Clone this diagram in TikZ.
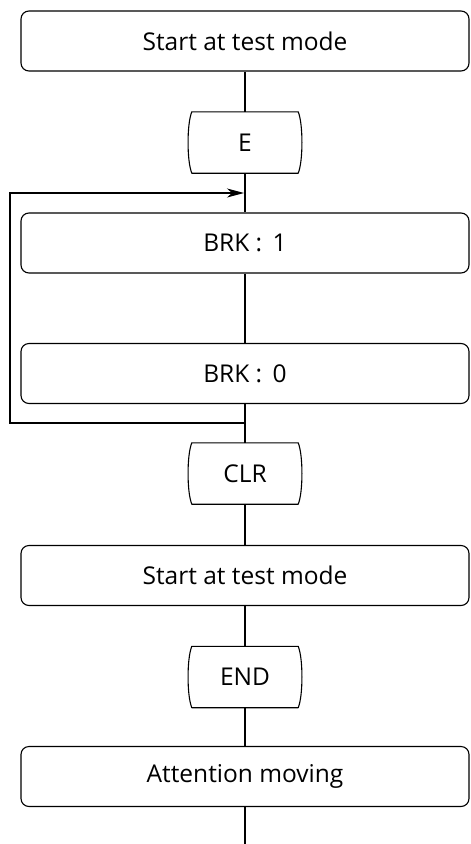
\documentclass[tikz,border=0pt]{standalone}
\usepackage{fontspec}
\setmainfont{Open Sans}
\usetikzlibrary{arrows.meta,positioning,calc}

\tikzset{
  flowline/.style={line width=1.1pt, black},
  stepbox/.style={draw, line width=1.1pt, rounded corners=8pt, minimum width=448pt,
    minimum height=60pt, inner sep=0pt, font=\fontsize{24.5}{27}\selectfont},
  keycap/.style={minimum width=106pt, minimum height=61pt, inner sep=0pt,
    font=\fontsize{24.5}{27}\selectfont},
}

\begin{document}
\begin{tikzpicture}[x=1pt, y=-1pt]
    \useasboundingbox (0,0) rectangle (471,844);
    % Steps
    \node[stepbox] (start) at (245,41) {Start at test mode};
    \node[keycap] (keye) at (245,142.5) {E};
    \node[stepbox] (brkon) at (245,243) {BRK :\, 1};
    \node[stepbox] (brkoff) at (245,373.5) {BRK :\, 0};
    \node[keycap] (keyclr) at (245,473.5) {CLR};
    \node[stepbox] (restart) at (245,575.5) {Start at test mode};
    \node[keycap] (keyend) at (245,677) {END};
    \node[stepbox] (attn) at (245,776.5) {Attention moving};
    \coordinate (tail) at (245,844);
    % Key outlines with bulging sides
    \foreach \k in {keye,keyclr,keyend}
      \draw[flowline, line join=round] (\k.north west) -- (\k.north east)
        .. controls ($(\k.north east)+(5,12)$) and ($(\k.south east)+(5,-12)$) .. (\k.south east)
        -- (\k.south west)
        .. controls ($(\k.south west)+(-5,-12)$) and ($(\k.north west)+(-5,12)$) .. (\k.north west)
        -- cycle;
    % Main flow
    \draw[flowline] (start) -- (keye);
    \draw[flowline] (keye) -- (brkon);
    \draw[flowline] (brkon) -- (brkoff);
    \draw[flowline] (brkoff) -- (keyclr);
    \draw[flowline] (keyclr) -- (restart);
    \draw[flowline] (restart) -- (keyend);
    \draw[flowline] (keyend) -- (attn);
    \draw[flowline] (attn) -- (tail);
    % Repeat loop
    \coordinate (loopout) at (245,423);
    \coordinate (loopin) at (244,193);
    \draw[flowline, -{Stealth[length=17pt, width=9pt, inset=5pt]}]
      (loopout) -- (10,423) |- (loopin);
  \end{tikzpicture}
\end{document}
